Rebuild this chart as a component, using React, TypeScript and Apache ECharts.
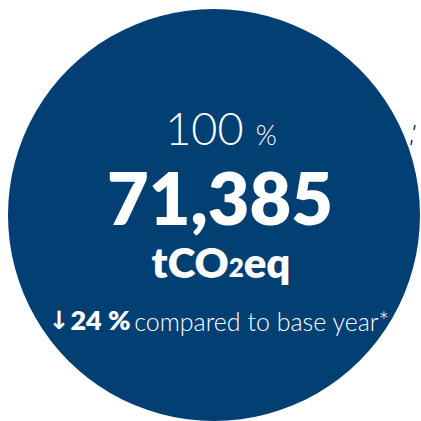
import React, { useEffect, useRef } from "react";
import * as echarts from "echarts";

const shareLabels = ["Total"];
const shareValues = [100];
const totalEmissions = [71385];
const unitParts = ["tCO", "2", "eq"];
const changeVsBase = [-24];
const changeCaption = ["compared to base year*"];

const BLUE = "#023f73";
const FONT = "Lato, 'Open Sans', sans-serif";

export default function App() {
  const ref = useRef<HTMLDivElement>(null);
  useEffect(() => {
    if (!ref.current) return;
    const chart = echarts.init(ref.current, undefined, { renderer: "svg" });
    const total = totalEmissions[0].toLocaleString("en-US");
    const chg = Math.abs(changeVsBase[0]);
    chart.setOption({
      animation: false,
      backgroundColor: "#ffffff",
      series: [
        {
          type: "pie",
          center: [214, 215],
          radius: [0, 206],
          silent: true,
          z: 1,
          label: { show: false },
          labelLine: { show: false },
          itemStyle: { color: BLUE, borderWidth: 0 },
          data: shareLabels.map((n, i) => ({ name: n, value: shareValues[i] })),
        },
      ],
      graphic: [
        {
          type: "line",
          z: 100,
          shape: { x1: 415, y1: 125, x2: 414, y2: 130 },
          style: { stroke: BLUE, lineWidth: 1.5 },
        },
        {
          type: "line",
          z: 100,
          shape: { x1: 412, y1: 140, x2: 411, y2: 145 },
          style: { stroke: BLUE, lineWidth: 1.5 },
        },
        {
          type: "text",
          z: 100,
          x: 221,
          y: 128,
          style: {
            text: `{a|${shareValues[0]} }{b|%}`,
            align: "center",
            verticalAlign: "middle",
            rich: {
              a: { fontSize: 45, fontWeight: 300, fill: "#fff", fontFamily: FONT, verticalAlign: "bottom", lineHeight: 45 },
              b: { fontSize: 27, fontWeight: 300, fill: "#fff", fontFamily: FONT, verticalAlign: "bottom", lineHeight: 27, padding: [0, 0, 3, 0] },
            },
          },
        },
        {
          type: "text",
          z: 100,
          x: 220,
          y: 197,
          style: {
            text: total,
            align: "center",
            verticalAlign: "middle",
            fontSize: 72,
            fontWeight: 800,
            fill: "#fff",
            fontFamily: FONT,
          },
        },
        {
          type: "text",
          z: 100,
          x: 221,
          y: 262,
          style: {
            text: `{a|${unitParts[0]}}{b|${unitParts[1]}}{a|${unitParts[2]}}`,
            align: "center",
            verticalAlign: "middle",
            rich: {
              a: { fontSize: 42, fontWeight: 800, fill: "#fff", fontFamily: FONT, verticalAlign: "bottom", lineHeight: 42 },
              b: { fontSize: 26, fontWeight: 800, fill: "#fff", fontFamily: FONT, verticalAlign: "bottom", lineHeight: 26, padding: [0, 0, 3, 0] },
            },
          },
        },
        {
          type: "text",
          z: 100,
          x: 219,
          y: 319,
          style: {
            text: `{r|↓}{b|${chg} %} {c|${changeCaption[0]}}`,
            align: "center",
            verticalAlign: "middle",
            rich: {
              r: { fontSize: 25, fontWeight: 700, fill: "#fff", fontFamily: "'DejaVu Sans'", verticalAlign: "bottom", lineHeight: 28, padding: [0, 1, 0, 0] },
              b: { fontSize: 27, fontWeight: 800, fill: "#fff", fontFamily: FONT, verticalAlign: "bottom", lineHeight: 28 },
              c: { fontSize: 25, fontWeight: 300, fill: "#fff", fontFamily: FONT, verticalAlign: "bottom", lineHeight: 28 },
            },
          },
        },
      ],
    });
    return () => chart.dispose();
  }, []);
  return (
    <div
      ref={ref}
      style={{ position: "fixed", left: 0, top: 0, width: 421, height: 421 }}
    />
  );
}
